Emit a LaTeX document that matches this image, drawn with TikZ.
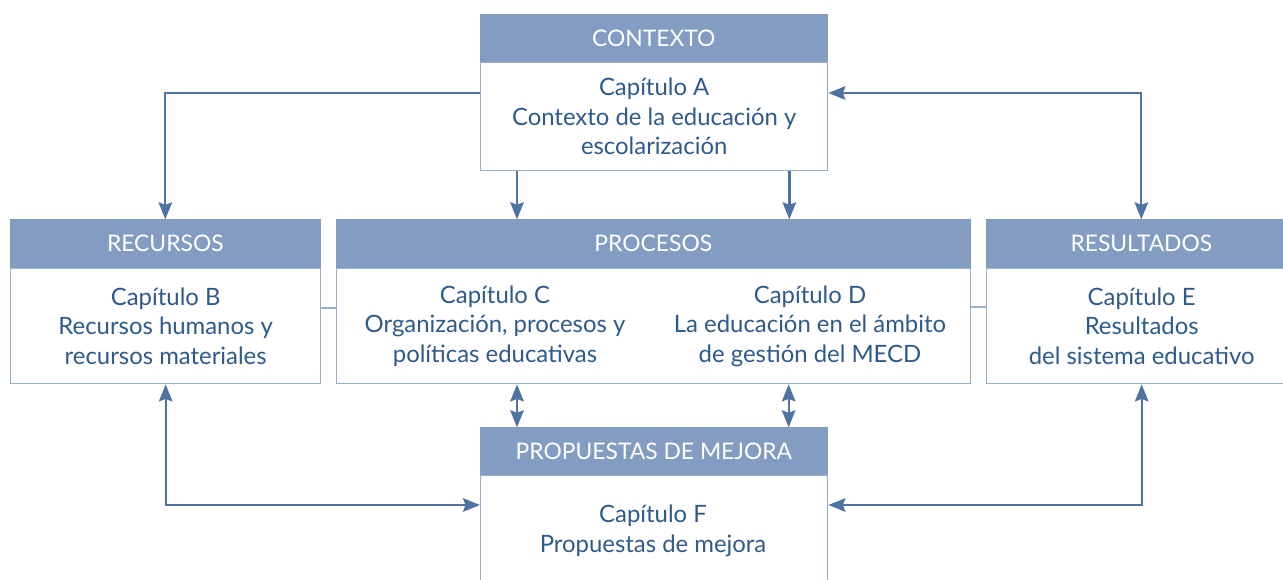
\documentclass[tikz,border=0pt]{standalone}
\usepackage{fontspec}
\setmainfont{Lato}
\usetikzlibrary{arrows.meta}
\definecolor{headblue}{HTML}{829CC2}
\definecolor{lineblue}{HTML}{9AAFD0}
\definecolor{arrowblue}{HTML}{4F72A3}
\definecolor{textblue}{HTML}{2E5A8C}
\tikzset{
  boxhead/.style={fill=headblue,draw=headblue,text=white,inner sep=0pt,
    font=\fontsize{13}{15}\selectfont},
  boxbody/.style={draw=lineblue,line width=0.8pt,fill=white,inner sep=0pt},
  chaptext/.style={text=textblue,align=center,inner sep=0pt,
    font=\fontsize{13.6}{16.8}\selectfont},
  arr/.style={draw=arrowblue,line width=1.3pt,
    -{Stealth[length=0.34cm,width=0.27cm,inset=0.05cm]}},
  darr/.style={draw=arrowblue,line width=1.3pt,
    {Stealth[length=0.34cm,width=0.27cm,inset=0.05cm]}-{Stealth[length=0.34cm,width=0.27cm,inset=0.05cm]}},
  thinlink/.style={draw=lineblue,line width=0.8pt}
}
\begin{document}
\begin{tikzpicture}[x=0.02cm,y=-0.02cm]
\useasboundingbox (0,0) rectangle (1283,579);
%=======contexto=============
\node[boxbody,minimum width=6.94cm,minimum height=2.16cm,anchor=north west] (ctx) at (480,62) {};
\node[boxhead,minimum width=6.94cm,minimum height=0.94cm,anchor=south west] (ctxh) at (ctx.north west) {CONTEXTO};
\node[chaptext] (ctxt) at (ctx.center) {Capítulo A\\Contexto de la educación y\\escolarización};
%=======recursos=============
\node[boxbody,minimum width=6.2cm,minimum height=2.3cm,anchor=north west] (rec) at (10,268) {};
\node[boxhead,minimum width=6.2cm,minimum height=0.96cm,anchor=south west] (rech) at (rec.north west) {RECURSOS};
\node[chaptext] (rect) at (rec.center) {Capítulo B\\Recursos humanos y\\recursos materiales};
%=======procesos=============
\node[boxbody,minimum width=12.68cm,minimum height=2.3cm,anchor=north west] (proc) at (336,268) {};
\node[boxhead,minimum width=12.68cm,minimum height=0.96cm,anchor=south west] (proch) at (proc.north west) {PROCESOS};
\node[chaptext] (proct) at (495,326) {Capítulo C\\Organización, procesos y\\políticas educativas};
\node[chaptext] (procd) at (810,326) {Capítulo D\\La educación en el ámbito\\de gestión del MECD};
%=======resultados=============
\node[boxbody,minimum width=6.2cm,minimum height=2.3cm,anchor=north west] (res) at (986,268) {};
\node[boxhead,minimum width=6.2cm,minimum height=0.96cm,anchor=south west] (resh) at (res.north west) {RESULTADOS};
\node[chaptext] (rest) at (res.center) {Capítulo E\\Resultados\\del sistema educativo};
%=======propuestas=============
\node[boxbody,minimum width=6.94cm,minimum height=2.4cm,anchor=north west] (prop) at (480,475) {};
\node[boxhead,minimum width=6.94cm,minimum height=0.94cm,anchor=south west] (proph) at (prop.north west) {PROPUESTAS DE MEJORA};
\node[chaptext] (propt) at (653,531) {Capítulo F\\Propuestas de mejora};
%=======connectors=============
\draw[arr] ([yshift=-0.62cm]ctx.north west) -| (rech.north);
\draw[darr] ([yshift=-0.62cm]ctx.north east) -| (resh.north);
\draw[arr] ([xshift=0.74cm]ctx.south west) -- ([xshift=0.74cm]ctx.south west |- proch.north);
\draw[arr] ([xshift=-0.78cm]ctx.south east) -- ([xshift=-0.78cm]ctx.south east |- proch.north);
\draw[darr] ([xshift=0.74cm]proph.north west) -- ([xshift=0.74cm]proph.north west |- proc.south);
\draw[darr] ([xshift=-0.78cm]proph.north east) -- ([xshift=-0.78cm]proph.north east |- proc.south);
\draw[darr] (rec.south) |- ([yshift=-0.6cm]prop.north west);
\draw[darr] (res.south) |- ([yshift=-0.6cm]prop.north east);
\draw[thinlink] ([yshift=-0.8cm]rec.north east) -- ([yshift=-0.8cm]proc.north west);
\draw[thinlink] ([yshift=-0.78cm]proc.north east) -- ([yshift=-0.78cm]res.north west);
\end{tikzpicture}
\end{document}
